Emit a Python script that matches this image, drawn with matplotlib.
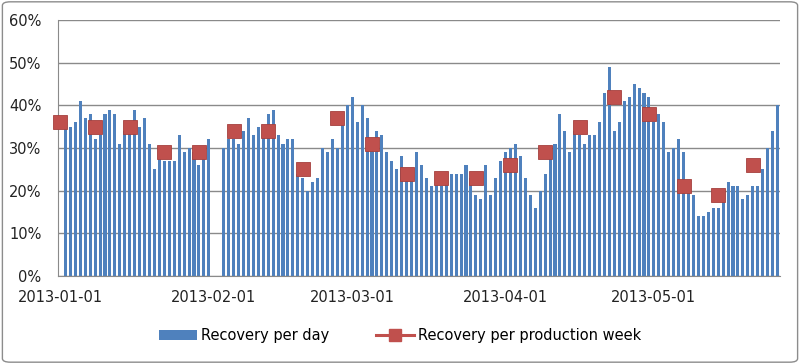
import numpy as np
import pandas as pd
import matplotlib
matplotlib.use("Agg")
import matplotlib.pyplot as plt
from matplotlib.lines import Line2D
from matplotlib.patches import Patch, FancyBboxPatch

# daily recovery (%), starting 2013-01-01; None = no production that day
daily = [
    None, 35, 35, 36, 41, 37, 38, 32, 33, 38, 39, 38, 31, 34, 34, 39, 35, 37,
    31, 25, 29, 27, 27, 27, 33, 29, 30, 29, 26, 28, 32,
    None, None,
    30, 32, 32, 31, 34, 37, 33, 35, 34, 38, 39, 33, 31, 32, 32, 24, 23, 20,
    22, 23, 30, 29,
    32, 30, 36, 40, 42, 36, 40, 37, 31, 34, 33, 29, 27, 25, 28, 24, 23,
    29, 26, 23, 21, 22, 21, 22, 24, 24, 24, 26, 23, 19, 18, 26, 19, 23, 27, 29,
    30, 31, 28, 23, 19, 16, 20, 24, 28, 31, 38, 34, 29, 34, 33, 31, 33, 33,
    36, 43, 49,
    34, 36, 41, 42, 45, 44, 43, 42, 36, 38, 36, 29, 30, 32, 29,
    22, 19, 14, 14, 15, 16, 16, 20, 22, 21, 21, 18, 19, 21, 21, 25, 30, 34, 40,
]
# recovery per production week (%), one point every 7 days from 2013-01-01
weekly = [36, 35, 35, 29, 29, 34, 34, 25, 37, 31, 24, 23, 23, 26, 29, 35, 42,
          38, 21, 19, 26]
month_ticks = ["2013-01-01", "2013-02-01", "2013-03-01", "2013-04-01",
               "2013-05-01"]

days = pd.date_range("2013-01-01", periods=len(daily), freq="D")
weeks = pd.date_range("2013-01-01", periods=len(weekly), freq="7D")
d_val = np.array([np.nan if v is None else v for v in daily], float) / 100
w_val = np.array(weekly, float) / 100

BLUE, RED = "#4F81BD", "#C0504D"
GRID = "#8A8A8A"
plt.rcParams["font.family"] = ["DejaVu Sans"]

fig = plt.figure(figsize=(8, 3.64), dpi=100)
ax = fig.add_axes([0.0725, 0.242, 0.9025, 0.703])

ok = ~np.isnan(d_val)
ax.bar(days[ok], d_val[ok], width=0.62, color=BLUE, zorder=2)
ax.plot(weeks, w_val, ls="none", marker="s", ms=10, mfc=RED,
        mec="#A5403D", mew=0.6, zorder=3, clip_on=False)

ax.set_ylim(0, 0.6)
ax.set_yticks(np.arange(0, 0.61, 0.1))
ax.set_yticklabels([f"{int(round(v * 100))}%" for v in np.arange(0, 0.61, 0.1)],
                   fontsize=10.5, color="#222222")
ax.set_xlim(days[0] - pd.Timedelta(hours=12), days[-1] + pd.Timedelta(hours=12))
ax.set_xticks(pd.to_datetime(month_ticks))
ax.set_xticklabels(month_ticks, fontsize=10.5, color="#222222")
ax.tick_params(axis="y", length=0, pad=12)
ax.tick_params(axis="x", length=0, pad=10)

ax.grid(axis="y", color=GRID, lw=1, zorder=0)
ax.set_axisbelow(True)
for s in ("top", "right"):
    ax.spines[s].set_visible(False)
ax.spines["left"].set_color(GRID)
ax.spines["bottom"].set_color(GRID)

handles = [Patch(facecolor=BLUE, edgecolor="none"),
           Line2D([], [], color=RED, lw=2.2, marker="s", ms=9, mfc=RED,
                  mec=RED)]
fig.legend(handles, ["Recovery per day", "Recovery per production week"],
           loc="center", bbox_to_anchor=(0.5, 0.077), ncol=2, frameon=False,
           fontsize=10.5, handlelength=2.6, handletextpad=0.3,
           columnspacing=3.2)

fig.patches.append(FancyBboxPatch((0.003, 0.005), 0.994, 0.99,
                                  boxstyle="round,pad=0,rounding_size=0.01",
                                  transform=fig.transFigure, fill=False,
                                  ec="#8C8C8C", lw=1))
fig.savefig("out.png", dpi=100)
